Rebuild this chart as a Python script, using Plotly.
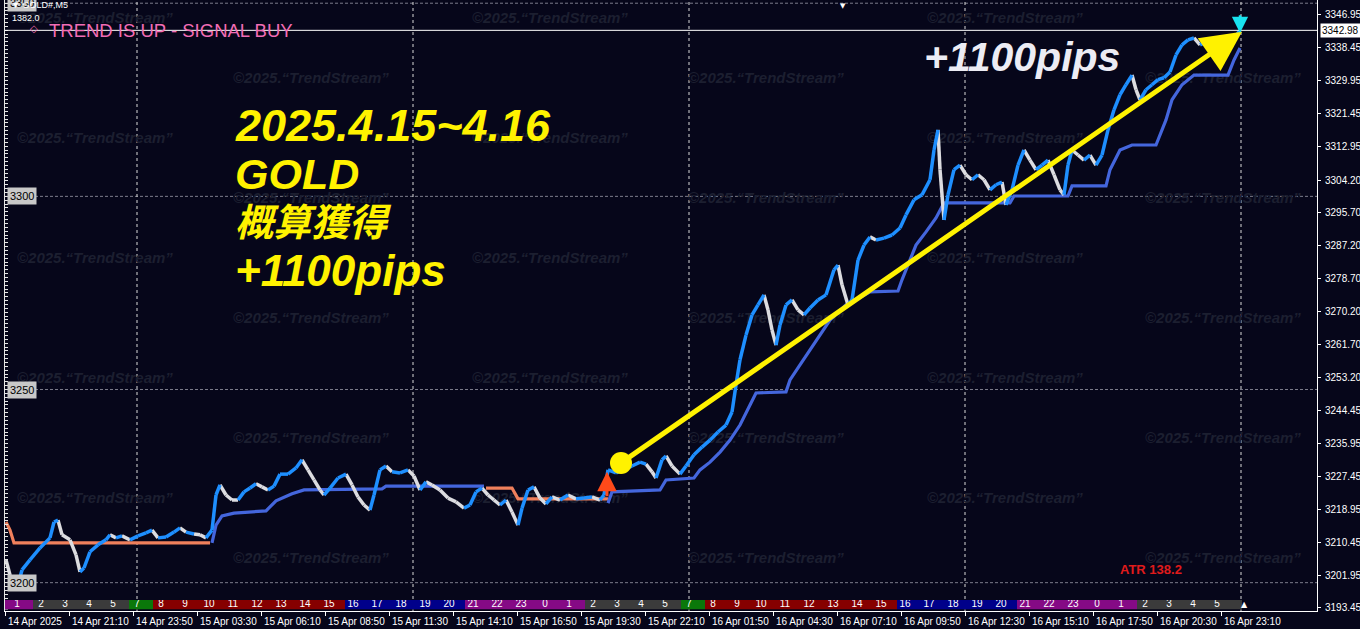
import plotly.graph_objects as go

BG = "#06061a"
FONT = "Liberation Sans"

# ---------------- data ----------------
# M5 bar index (0 = first visible bar, 14 Apr) and approximate close prices
bar_idx = [0, 2, 4, 6, 8, 12, 17, 22, 24, 26,
           28, 32, 35, 37, 39, 42, 46, 50, 52, 55,
           58, 62, 66, 70, 73, 76, 80, 84, 87, 90,
           94, 97, 100, 103, 105, 107, 110, 113, 116, 119,
           122, 125, 128, 131, 134, 137, 141, 145, 148, 151,
           154, 157, 159, 162, 166, 170, 173, 176, 179, 182,
           184, 187, 190, 193, 197, 201, 204, 207, 210, 213,
           217, 221, 225, 229, 232, 235, 238, 241, 244, 247,
           250, 253, 256, 258, 261, 264, 267, 270, 273, 277,
           281, 285, 289, 293, 297, 299, 301, 305, 309, 313,
           317, 320, 323, 325, 328, 330, 333, 337, 340, 344,
           348, 352, 356, 360, 363, 365, 367, 370, 373, 376,
           379, 381, 383, 385, 387, 390, 393, 396, 399, 402,
           406, 410, 414, 416, 418, 421, 423, 426, 429, 432,
           435, 439, 443, 447, 450, 454, 458, 462, 464, 466,
           467, 469, 471, 474, 477, 480, 483, 486, 489, 492,
           495, 498, 500, 503, 506, 509, 512, 515, 518, 521,
           524, 527, 529, 531, 533, 536, 539, 542, 545, 548,
           551, 554, 557, 560, 563, 565, 567, 570, 573, 576,
           579, 582, 585, 588, 591, 594, 597, 600, 603, 606,
           609, 612, 615, 617]
close = [3205.9, 3202.0, 3198.1, 3199.4, 3203.3, 3205.9, 3209.0, 3211.6, 3215.7, 3216.2,
         3212.4, 3211.1, 3207.2, 3202.8, 3203.8, 3208.0, 3209.8, 3211.1, 3212.4, 3211.6,
         3212.1, 3211.1, 3212.1, 3212.9, 3213.6, 3211.6, 3211.8, 3213.1, 3214.2, 3213.1,
         3212.6, 3212.4, 3211.6, 3213.6, 3222.7, 3225.3, 3222.7, 3221.4, 3221.4, 3223.5,
         3224.5, 3225.6, 3224.8, 3224.0, 3225.0, 3228.1, 3228.1, 3229.7, 3231.8, 3229.2,
         3226.6, 3224.0, 3222.7, 3224.5, 3227.1, 3228.1, 3225.3, 3222.2, 3220.1, 3218.8,
         3222.7, 3229.2, 3230.2, 3228.7, 3228.4, 3229.2, 3227.6, 3224.0, 3226.1, 3225.3,
         3224.0, 3221.9, 3220.9, 3219.3, 3220.1, 3223.5, 3224.5, 3222.7, 3221.4, 3220.1,
         3221.4, 3218.3, 3214.9, 3219.3, 3224.0, 3224.8, 3221.9, 3220.4, 3222.2, 3221.4,
         3222.7, 3221.7, 3221.9, 3222.2, 3221.4, 3222.7, 3229.2, 3228.4, 3229.2, 3230.2,
         3231.2, 3230.7, 3228.7, 3227.1, 3231.8, 3232.8, 3230.2, 3228.1, 3230.2, 3233.1,
         3235.1, 3236.9, 3239.0, 3240.8, 3244.2, 3251.2, 3257.7, 3264.1, 3269.3, 3271.9,
         3274.5, 3270.6, 3265.4, 3261.5, 3266.7, 3271.9, 3273.2, 3270.6, 3269.3, 3271.1,
         3273.2, 3274.5, 3281.0, 3282.2, 3277.1, 3271.9, 3273.2, 3283.5, 3287.4, 3289.5,
         3288.7, 3289.2, 3290.0, 3291.8, 3295.2, 3299.1, 3300.4, 3304.3, 3312.0, 3317.2,
         3306.9, 3293.9, 3300.4, 3306.9, 3308.1, 3305.6, 3304.3, 3305.6, 3304.3, 3301.7,
         3303.0, 3303.7, 3297.8, 3301.7, 3308.1, 3312.0, 3309.4, 3306.9, 3308.1, 3309.4,
         3305.6, 3301.7, 3300.4, 3308.1, 3312.0, 3310.7, 3309.4, 3310.7, 3308.1, 3310.7,
         3317.2, 3322.4, 3326.3, 3328.9, 3331.4, 3327.6, 3325.0, 3327.6, 3328.9, 3330.2,
         3330.7, 3332.2, 3336.6, 3339.2, 3340.5, 3341.0, 3339.2, 3340.0, 3338.7, 3339.2,
         3337.9, 3339.2, 3341.5, 3343.0]
# B = up-trend (blue) bar, W = down-trend (white) bar
trend = list("WWWWBBBBBB" "WWWWBBBBBW" "BWBBBWBBBW" "BWWBBBWWWB" "BBWWBBBBBW"
             "WWWBBBWWWW" "BBBWBBWWBW" "WWWWBBBWWW" "BWWBBBWWBW" "BWBBWBBBBB"
             "BBWWBBWWBB" "BBBBBBBBBB" "BWWWBBBWWB" "BBBBWWBBBB" "WBBBBBBBBB"
             "WWBBBWWBWW" "BBWBBBWWBB" "WWWBBWWBWB" "BBBBBWWBBB" "BBBBBBWBWB"
             "WBBB")

# trailing-stop lines
orange_a_idx = [0, 2, 4, 102]
orange_a = [3215.7, 3213.6, 3210.3, 3210.3]
blue_a_idx = [103, 105, 108, 114, 130, 135, 143, 149, 188, 190, 239]
blue_a = [3210.3, 3214.9, 3217.3, 3218.0, 3218.6, 3221.2, 3223.0, 3224.0, 3224.3, 3225.0, 3225.0]
orange_b_idx = [240, 253, 256, 301]
orange_b = [3224.5, 3224.5, 3221.7, 3221.7]
blue_b_idx = [301, 303, 327, 330, 344, 347, 352, 357, 362, 367,
              372, 375, 390, 392, 397, 402, 407, 412, 420, 425,
              432, 446, 448, 451, 455, 460, 465, 469, 502, 504,
              531, 533, 550, 552, 557, 563, 575, 580, 583, 588,
              594, 611, 614, 617]
blue_b = [3220.6, 3223.5, 3224.0, 3226.6, 3227.1, 3229.2, 3231.2, 3233.8, 3236.9, 3240.8,
          3246.0, 3249.1, 3249.4, 3252.5, 3256.4, 3260.3, 3264.1, 3268.0, 3271.9, 3273.2,
          3275.3, 3275.5, 3278.4, 3282.3, 3287.4, 3290.8, 3294.4, 3298.3, 3298.3, 3300.1,
          3300.1, 3302.7, 3302.7, 3306.9, 3312.0, 3313.3, 3313.3, 3319.8, 3325.0, 3328.9,
          3331.4, 3331.4, 3335.3, 3338.4]

# signals / drawings
signal_bar, signal_tip, signal_tail = 300.5, 3228.7, 3222.0
exit_bar, exit_tip, exit_tail = 617, 3342.3, 3347.3
move_start = (307.5, 3231.0)
move_end = (618, 3342.6)
current_price = 3342.98

# axes
right_ticks = [3346.95, 3338.45, 3329.95, 3321.45, 3312.95, 3304.20, 3295.70, 3287.20,
               3278.70, 3270.20, 3261.70, 3253.20, 3244.45, 3235.95, 3227.45, 3218.95,
               3210.45, 3201.95, 3193.45]
levels = [3350, 3300, 3250, 3200]
date_labels = ["14 Apr 2025", "14 Apr 21:10", "14 Apr 23:50", "15 Apr 03:30", "15 Apr 06:10",
               "15 Apr 08:50", "15 Apr 11:30", "15 Apr 14:10", "15 Apr 16:50", "15 Apr 19:30",
               "15 Apr 22:10", "16 Apr 01:50", "16 Apr 04:30", "16 Apr 07:10", "16 Apr 09:50",
               "16 Apr 12:30", "16 Apr 15:10", "16 Apr 17:50", "16 Apr 20:30", "16 Apr 23:10"]
hours = [1, 2, 3, 4, 5, 7, 8, 9, 10, 11, 12, 13, 14, 15, 16, 17, 18, 19, 20, 21, 22, 23, 0,
         1, 2, 3, 4, 5, 7, 8, 9, 10, 11, 12, 13, 14, 15, 16, 17, 18, 19, 20, 21, 22, 23, 0,
         1, 2, 3, 4, 5]

Y_RANGE = [3192.67, 3350.83]
X_RANGE = [-0.5, 655.5]
BARS_PER_LABEL = 32
BARS_PER_HOUR = 12


def hour_color(h):
    if h in (21, 22, 23, 0, 1):
        return "#850a85"
    if h in (2, 3, 4, 5):
        return "#3b3b3b"
    if h == 7:
        return "#0a780a"
    if 8 <= h <= 15:
        return "#860000"
    return "#00008a"


fig = go.Figure()

# watermark grid (drawn first = behind everything)
wm_x, wm_y = [], []
for r in range(10):
    cols = [5.5, 233, 460.5] if r % 2 == 0 else [113.5, 341, 569.5]
    for c in cols:
        wm_x.append(c)
        wm_y.append(3345.9 - 15.53 * r)
fig.add_trace(go.Scatter(
    x=wm_x, y=wm_y, mode="text", text=["©2025.\u201cTrendStream\u201d"] * len(wm_x),
    textposition="middle right",
    textfont=dict(family=FONT, size=15, color="#1c1f30", style="italic", weight="bold"),
    hoverinfo="skip", showlegend=False))

# trailing stop lines
for xs, ys, col in [(orange_a_idx, orange_a, "#f0805c"), (blue_a_idx, blue_a, "#4466dd"),
                    (orange_b_idx, orange_b, "#f0805c"), (blue_b_idx, blue_b, "#4466dd")]:
    fig.add_trace(go.Scatter(x=xs, y=ys, mode="lines", line=dict(color=col, width=3.2),
                             hoverinfo="skip", showlegend=False))

# price path coloured by trend
up_x, up_y, dn_x, dn_y = [], [], [], []
for k in range(1, len(bar_idx)):
    tx, ty = (up_x, up_y) if trend[k] == "B" else (dn_x, dn_y)
    tx += [bar_idx[k - 1], bar_idx[k], None]
    ty += [close[k - 1], close[k], None]
fig.add_trace(go.Scatter(x=dn_x, y=dn_y, mode="lines", line=dict(color="#dcdce0", width=3.5),
                         hoverinfo="skip", showlegend=False))
fig.add_trace(go.Scatter(x=up_x, y=up_y, mode="lines", line=dict(color="#1e8fff", width=3.5),
                         hoverinfo="skip", showlegend=False))

# yellow start circle
fig.add_trace(go.Scatter(x=[move_start[0]], y=[move_start[1]], mode="markers",
                         marker=dict(color="#fff200", size=22, line=dict(width=0)),
                         hoverinfo="skip", showlegend=False))

# hour strip (separate thin axis at the bottom)
n = len(hours)
starts = [1.5 + BARS_PER_HOUR * k for k in range(n)]
ends = [s + BARS_PER_HOUR for s in starts]
starts[0] = X_RANGE[0]
ends[-1] = move_end[0]
fig.add_trace(go.Bar(
    x=[(s + e) / 2 for s, e in zip(starts, ends)], y=[1] * n, base=0,
    width=[e - s for s, e in zip(starts, ends)],
    marker=dict(color=[hour_color(h) for h in hours], line=dict(width=0)),
    xaxis="x", yaxis="y3", hoverinfo="skip", showlegend=False))
fig.add_trace(go.Scatter(
    x=[5.5 + BARS_PER_HOUR * k for k in range(n)], y=[0.5] * n, mode="text",
    text=[str(h) for h in hours], textposition="middle center",
    textfont=dict(family=FONT, size=10, color="white"),
    xaxis="x", yaxis="y3", hoverinfo="skip", showlegend=False))

# ---------------- shapes ----------------
shapes = []
for lv in levels:
    shapes.append(dict(type="line", xref="paper", x0=0, x1=1, yref="y", y0=lv, y1=lv,
                       line=dict(color="#7c7c8c", width=1, dash="3px,2px"), layer="below"))
for k in range(5):
    gx = bar_idx[-1] + 0.5 - 138 * k
    shapes.append(dict(type="line", xref="x", x0=gx, x1=gx, yref="paper", y0=0, y1=1,
                       line=dict(color="#d8d8d8", width=1, dash="3px,3px"), layer="below"))
shapes.append(dict(type="line", xref="paper", x0=0, x1=1, yref="y", y0=current_price,
                   y1=current_price, line=dict(color="white", width=1)))

# ---------------- annotations ----------------
ann = []
tick_vals = [BARS_PER_LABEL * k - 0.5 for k in range(len(date_labels))]
for tv, lab in zip(tick_vals, date_labels):
    ann.append(dict(x=tv, y=-0.0164, xref="x", yref="paper", text=lab, showarrow=False,
                    xanchor="left", yanchor="middle", xshift=1,
                    font=dict(family=FONT, size=10, color="white")))
for lv in levels:
    ann.append(dict(x=0.0015, xref="paper", y=lv, yref="y", text=str(lv), showarrow=False,
                    xanchor="left", yanchor="middle", bgcolor="#c8c8c8", borderpad=2,
                    font=dict(family=FONT, size=11, color="black")))
ann.append(dict(x=1, xref="paper", xshift=3, y=current_price, yref="y",
                text=f"{current_price:.2f}", showarrow=False, xanchor="left",
                yanchor="middle", bgcolor="white", borderpad=1,
                font=dict(family=FONT, size=10, color="black")))

big = dict(family=FONT + ", Noto Sans CJK JP", color="#fff200", weight="bold", style="italic")
for txt, yp, sz in [("2025.4.15~4.16", 0.7938, 45), ("GOLD", 0.7152, 43),
                    ("概算獲得", 0.635, 38), ("+1100pips", 0.5565, 44)]:
    ann.append(dict(x=0.1738, y=yp, xref="paper", yref="paper", text=txt, showarrow=False,
                    xanchor="left", yanchor="middle", font=dict(big, size=sz)))
ann.append(dict(x=0.699, y=0.9067, xref="paper", yref="paper", text="+1100pips",
                showarrow=False, xanchor="left", yanchor="middle",
                font=dict(family=FONT, size=41, color="#ececf4", weight="bold", style="italic")))

ann.append(dict(x=0.0322, y=0.9493, xref="paper", yref="paper", text="TREND IS UP - SIGNAL BUY",
                showarrow=False, xanchor="left", yanchor="middle",
                font=dict(family=FONT, size=18.5, color="#f26db5")))
ann.append(dict(x=0.0175, y=0.953, xref="paper", yref="paper", text="◇", showarrow=False,
                xanchor="left", yanchor="middle", font=dict(family="DejaVu Sans", size=10, color="#f26db5")))
ann.append(dict(x=0.003, y=0.991, xref="paper", yref="paper", text="▼ GOLD#,M5",
                showarrow=False, xanchor="left", yanchor="middle",
                font=dict(family=FONT, size=9, color="white")))
ann.append(dict(x=0.004, y=0.971, xref="paper", yref="paper", text="1382.0",
                showarrow=False, xanchor="left", yanchor="middle",
                font=dict(family=FONT, size=9, color="white")))
ann.append(dict(x=0.848, y=0.0687, xref="paper", yref="paper", text="ATR 138.2",
                showarrow=False, xanchor="left", yanchor="middle",
                font=dict(family=FONT, size=13, color="#e01b1b", weight="bold")))
ann.append(dict(x=0.6387, y=1.0, xref="paper", yref="paper", text="▼", showarrow=False,
                xanchor="center", yanchor="top", font=dict(family="DejaVu Sans", size=7, color="white")))
ann.append(dict(x=0.9451, y=0.0, xref="paper", yref="paper", text="▲", showarrow=False,
                xanchor="center", yanchor="bottom", font=dict(family="DejaVu Sans", size=8, color="white")))

# arrows
ann.append(dict(x=move_end[0], y=move_end[1], ax=move_start[0], ay=move_start[1],
                xref="x", yref="y", axref="x", ayref="y", text="", showarrow=True,
                arrowhead=2, arrowsize=1.6, arrowwidth=5, arrowcolor="#fff200"))
ann.append(dict(x=signal_bar, y=signal_tip, ax=signal_bar, ay=signal_tail,
                xref="x", yref="y", axref="x", ayref="y", text="", showarrow=True,
                arrowhead=2, arrowsize=1.3, arrowwidth=3, arrowcolor="#ff4a1a"))
ann.append(dict(x=exit_bar, y=exit_tip, ax=exit_bar, ay=exit_tail,
                xref="x", yref="y", axref="x", ayref="y", text="", showarrow=True,
                arrowhead=2, arrowsize=1.3, arrowwidth=2.5, arrowcolor="#19e3f0"))

fig.update_layout(
    width=1360, height=629,
    margin=dict(l=5, r=43, t=0, b=18, pad=0),
    paper_bgcolor=BG, plot_bgcolor=BG,
    showlegend=False,
    shapes=shapes, annotations=ann,
    xaxis=dict(range=X_RANGE, showgrid=False, zeroline=False, showline=True,
               linecolor="white", linewidth=1, ticks="outside", ticklen=4,
               tickcolor="white", tickvals=tick_vals, ticktext=[""] * len(tick_vals),
               anchor="y", automargin=False, fixedrange=True),
    yaxis=dict(range=Y_RANGE, side="right", showgrid=False, zeroline=False, showline=True,
               linecolor="white", linewidth=1, ticks="outside", ticklen=3, tickcolor="white",
               tickvals=right_ticks, ticktext=[f"{v:.2f}" for v in right_ticks],
               tickfont=dict(family=FONT, size=10, color="white"), ticklabelstandoff=2,
               automargin=False, fixedrange=True, anchor="x"),
    yaxis2=dict(range=Y_RANGE, overlaying="y", side="left", showgrid=False, zeroline=False,
                showline=True, linecolor="#e6e6e6", linewidth=1, ticks="inside", ticklen=3,
                tickcolor="#e6e6e6", dtick=1, tick0=3190, showticklabels=False,
                automargin=False, fixedrange=True, anchor="x"),
    yaxis3=dict(domain=[0.0025, 0.018], range=[0, 1], visible=False, fixedrange=True,
                anchor="x"),
)
# a dummy invisible trace to activate the left ladder axis
fig.add_trace(go.Scatter(x=[None], y=[None], yaxis="y2", showlegend=False, hoverinfo="skip"))

fig.write_html("out.html", config={"displayModeBar": False},
               post_script="document.body.style.margin='0';"
                           "document.body.style.background='" + BG + "';"
                           "document.body.style.overflow='hidden';")
